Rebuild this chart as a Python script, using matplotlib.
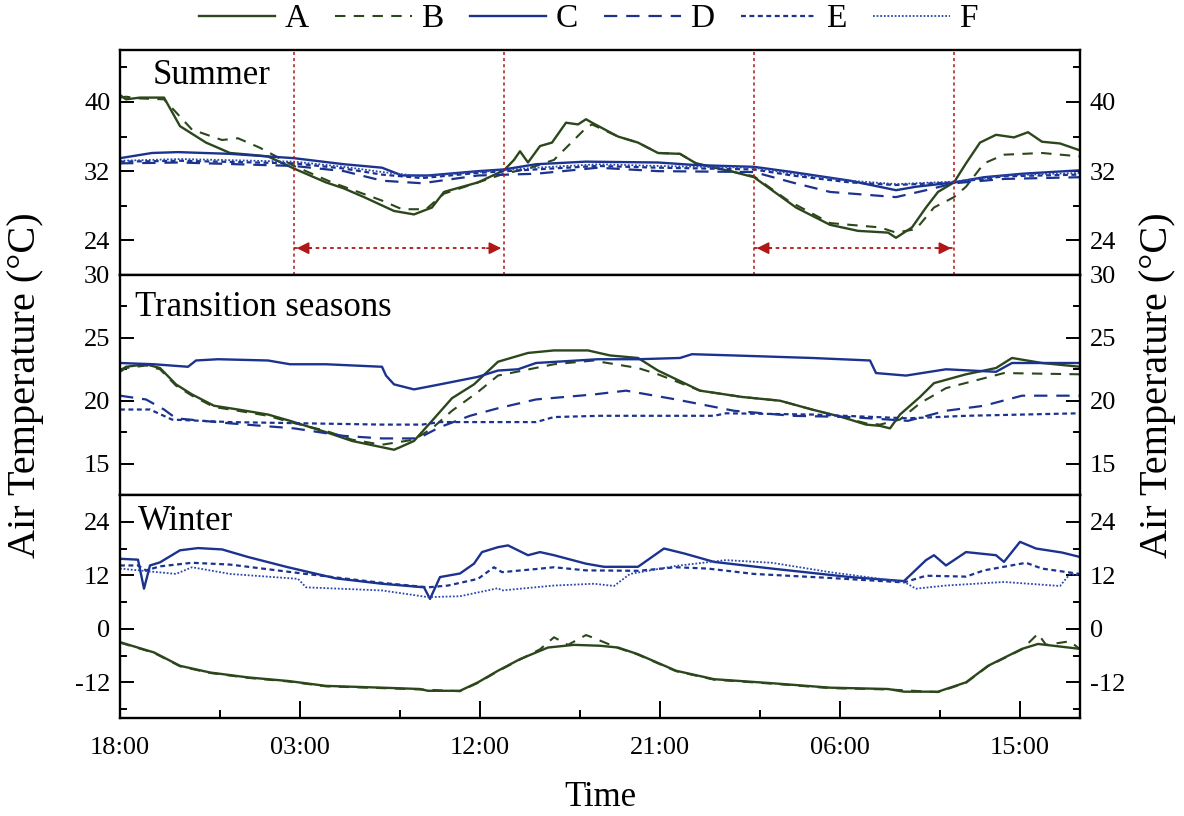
import numpy as np
import matplotlib
matplotlib.use("Agg")
from matplotlib import pyplot as plt
from matplotlib.lines import Line2D

plt.rcParams['font.family'] = ['Liberation Serif', 'DejaVu Serif']
plt.rcParams['axes.unicode_minus'] = False

# ---------------- data (hours after 18:00 of day 1) ----------------
tick_hours = [0, 9, 18, 27, 36, 45]
tick_labels = ['18:00', '03:00', '12:00', '21:00', '06:00', '15:00']
minor_hours = [5, 14, 23, 32, 41]

# summer
sum_A_t = [0, 0.3, 1.0, 2.2, 3.0, 4.3, 5.5, 6.5, 7.4, 8.7, 10.3, 11.2, 12.2, 13.7, 14.7, 15.6, 16.2, 17.9,
           19.2, 19.7, 20.0, 20.4, 21.0, 21.6, 22.3, 22.9, 23.3, 23.6, 24.9, 25.9, 26.9, 28.0, 28.8, 30.7,
           31.7, 32.6, 33.8, 35.5, 36.9, 38.4, 38.8, 39.6, 40.3, 40.9, 41.7, 42.3, 43.0, 43.8, 44.7, 45.4,
           46.1, 47.0, 48.0]
sum_A_v = [40.8, 40.3, 40.5, 40.5, 37.2, 35.3, 34.1, 33.9, 33.7, 32.3, 30.7, 30.0, 29.0, 27.4, 27.0, 27.8,
           29.6, 30.7, 32.1, 33.3, 34.3, 33.0, 34.9, 35.3, 37.6, 37.4, 38.0, 37.6, 36.0, 35.3, 34.1, 34.0, 32.9,
           31.9, 31.3, 29.8, 27.8, 25.8, 25.1, 24.9, 24.3, 25.5, 27.8, 29.6, 30.7, 32.9, 35.3, 36.2, 35.9, 36.5,
           35.4, 35.2, 34.4]
sum_B_t = [0, 0.3, 1.0, 2.2, 3.6, 5.1, 5.9, 7.0, 8.7, 10.6, 13.1, 14.1, 15.3, 16.2, 17.9, 19.2, 20.4,
           21.7, 23.3, 23.6, 24.9, 25.9, 26.9, 28.0, 28.8, 30.7, 31.7, 33.4, 35.5, 38.0, 38.8, 39.8, 40.7,
           41.7, 42.3, 43.2, 44.2, 46.1, 48.0]
sum_B_v = [40.5, 40.6, 40.4, 40.3, 36.8, 35.6, 35.8, 34.7, 32.6, 30.7, 28.6, 27.6, 27.6, 29.4, 30.7, 31.7,
           32.3, 33.3, 37.0, 37.4, 36.0, 35.3, 34.1, 34.0, 32.9, 31.9, 31.4, 28.6, 26.0, 25.5, 24.9, 25.3, 27.8,
           29.0, 30.2, 32.9, 33.9, 34.1, 33.7]
sum_C_t = [0, 1.6, 2.9, 5.5, 8.7, 11.2, 13.1, 14.1, 15.4, 17.9, 19.2, 20.8, 23.3, 26.9, 28.8, 31.7, 33.6,
           36.5, 38.8, 39.8, 41.7, 43.2, 45.1, 48.0]
sum_C_v = [33.5, 34.1, 34.2, 34.0, 33.5, 32.8, 32.4, 31.5, 31.5, 32.0, 32.2, 32.8, 33.1, 33.0, 32.7, 32.5,
           31.9, 30.9, 29.8, 30.2, 30.7, 31.3, 31.7, 32.1]
sum_D_t = [0, 3.0, 8.7, 11.2, 13.1, 15.1, 17.9, 20.8, 23.9, 26.9, 31.7, 33.6, 35.5, 38.8, 40.3, 41.7,
           44.2, 48.0]
sum_D_v = [32.9, 33.0, 32.6, 32.0, 30.9, 30.6, 31.5, 31.7, 32.4, 32.0, 31.9, 30.7, 29.6, 29.0, 29.8, 30.6,
           31.1, 31.3]
sum_E_t = [0, 3.0, 8.7, 11.2, 13.1, 15.1, 17.9, 20.8, 23.9, 26.9, 31.7, 33.6, 36.5, 38.8, 41.7, 44.2, 48.0]
sum_E_v = [33.1, 33.2, 32.9, 32.3, 31.6, 31.2, 31.8, 32.2, 32.6, 32.4, 32.2, 31.5, 30.7, 30.4, 30.7, 31.4,
           31.6]
sum_F_t = [0, 3.0, 8.7, 11.2, 13.1, 15.1, 17.9, 20.8, 23.9, 26.9, 31.7, 33.6, 36.5, 38.8, 41.7, 44.2, 48.0]
sum_F_v = [33.2, 33.4, 33.1, 32.5, 31.9, 31.4, 31.9, 32.4, 32.8, 32.6, 32.4, 31.7, 30.9, 30.5, 30.8, 31.5,
           31.8]

# transition seasons
tr_A_t = [0, 0.3, 1.3, 2.0, 2.8, 3.6, 4.7, 5.9, 7.4, 8.5, 10.3, 11.6, 13.1, 13.7, 14.0, 14.7, 15.6, 16.6,
          17.7, 18.9, 20.4, 21.7, 23.4, 24.5, 25.9, 26.9, 29.0, 31.1, 33.0, 34.6, 36.1, 37.3, 38.0, 38.5, 39.0,
          40.0, 40.7, 42.3, 43.8, 44.6, 46.1, 48.0]
tr_A_v = [22.4, 22.7, 22.9, 22.6, 21.3, 20.5, 19.6, 19.3, 18.9, 18.4, 17.5, 16.8, 16.3, 16.1, 16.3, 16.8,
          18.4, 20.2, 21.3, 23.1, 23.8, 24.0, 24.0, 23.6, 23.4, 22.4, 20.8, 20.3, 20.0, 19.3, 18.7, 18.1, 18.0,
          17.8, 18.9, 20.3, 21.4, 22.1, 22.6, 23.4, 23.0, 22.7]
tr_B_t = [0, 0.3, 1.3, 2.0, 2.8, 3.6, 4.7, 5.9, 7.4, 8.5, 10.3, 11.6, 13.1, 14.7, 15.6, 16.6, 17.9, 18.9,
          21.7, 23.7, 24.0, 25.9, 26.9, 29.0, 31.1, 33.0, 34.6, 36.1, 37.3, 38.0, 39.0, 40.0, 41.3, 44.2, 48.0]
tr_B_v = [22.3, 22.6, 22.8, 22.5, 21.2, 20.4, 19.5, 19.2, 18.8, 18.3, 17.6, 16.9, 16.5, 16.9, 17.8, 19.2,
          20.7, 22.0, 22.9, 23.2, 23.1, 22.6, 22.1, 20.8, 20.3, 20.0, 19.3, 18.7, 18.2, 18.1, 18.5, 19.8, 21.0,
          22.2, 22.1]
tr_C_t = [0, 1.7, 3.4, 3.8, 4.9, 7.4, 8.5, 10.3, 13.1, 13.3, 13.7, 14.7, 16.0, 17.9, 18.9, 19.9, 20.8, 23.9,
          25.9, 28.0, 28.6, 30.7, 34.6, 37.5, 37.8, 39.3, 41.3, 43.8, 44.6, 48.0]
tr_C_v = [23.0, 22.9, 22.7, 23.2, 23.3, 23.2, 22.9, 22.9, 22.7, 22.0, 21.3, 20.9, 21.3, 21.9, 22.4, 22.5,
          23.0, 23.3, 23.3, 23.4, 23.7, 23.6, 23.4, 23.2, 22.2, 22.0, 22.5, 22.3, 23.0, 23.0]
tr_D_t = [0, 1.3, 2.2, 2.8, 5.5, 8.7, 11.2, 13.1, 14.9, 16.0, 17.5, 18.9, 20.8, 23.7, 25.3, 27.8, 30.7,
          33.6, 36.5, 39.4, 41.3, 43.2, 45.1, 48.0]
tr_D_v = [20.4, 20.1, 19.3, 18.6, 18.2, 17.8, 17.2, 17.0, 17.0, 17.9, 18.8, 19.4, 20.1, 20.5, 20.8, 20.1,
          19.2, 18.8, 18.7, 18.4, 19.2, 19.6, 20.4, 20.4]
tr_E_t = [0, 1.5, 2.6, 5.5, 9.3, 13.1, 15.1, 16.0, 20.8, 21.7, 24.0, 29.7, 30.3, 34.6, 39.4, 42.3, 48.0]
tr_E_v = [19.3, 19.3, 18.5, 18.3, 18.2, 18.1, 18.1, 18.3, 18.3, 18.7, 18.8, 18.8, 19.0, 18.9, 18.6, 18.8,
          19.0]

# winter
wi_A_t = [0, 1.7, 3.0, 4.5, 6.4, 8.4, 10.3, 13.1, 15.0, 15.4, 17.0, 17.9, 18.9, 20.0, 21.4, 22.7, 24.0,
          24.9, 25.9, 27.8, 29.7, 32.6, 35.5, 38.4, 39.2, 40.9, 42.3, 43.4, 45.1, 45.9, 48.0]
wi_A_v = [-3.0, -5.3, -8.3, -9.8, -10.9, -11.7, -12.8, -13.2, -13.5, -13.9, -13.9, -12.0, -9.4, -6.8, -4.2,
          -3.6, -3.8, -4.2, -5.7, -9.4, -11.3, -12.2, -13.2, -13.5, -14.1, -14.1, -12.0, -8.3, -4.5, -3.4, -4.5]
wi_B_t = [0, 1.7, 3.0, 4.5, 6.4, 8.4, 10.3, 13.1, 15.0, 17.0, 17.9, 18.9, 20.0, 21.0, 21.7, 22.4, 23.3,
          23.6, 24.9, 25.9, 27.8, 29.7, 32.6, 35.5, 38.4, 40.9, 42.3, 43.4, 45.1, 45.9, 46.3, 47.5, 48.0]
wi_B_v = [-3.1, -5.4, -8.4, -9.9, -11.0, -11.8, -12.9, -13.3, -13.6, -14.0, -12.1, -9.5, -6.9, -4.6, -1.9,
          -3.6, -1.4, -1.9, -4.3, -5.8, -9.5, -11.4, -12.3, -13.3, -13.6, -14.2, -12.1, -8.4, -4.6, -1.1, -3.6,
          -2.8, -4.6]
wi_C_t = [0, 0.9, 1.2, 1.5, 2.0, 3.0, 3.9, 5.1, 6.4, 8.4, 10.8, 13.1, 15.2, 15.5, 16.0, 17.0, 17.7, 18.1,
          18.9, 19.4, 20.4, 21.0, 21.7, 23.3, 24.2, 25.9, 27.2, 28.2, 29.7, 32.6, 36.5, 39.2, 40.3, 40.7, 41.3,
          42.3, 43.8, 44.2, 45.0, 45.8, 47.1, 48.0]
wi_C_v = [15.7, 15.5, 9.0, 14.2, 14.9, 17.6, 18.1, 17.8, 16.1, 13.8, 11.3, 10.1, 9.3, 6.7, 11.6, 12.4, 14.6,
          17.2, 18.3, 18.7, 16.5, 17.2, 16.5, 14.6, 13.9, 13.9, 18.0, 16.9, 15.0, 13.5, 11.6, 10.7, 15.4, 16.5,
          14.2, 17.2, 16.5, 15.0, 19.5, 18.0, 17.1, 16.1]
wi_E_t = [0, 0.9, 1.3, 2.0, 3.6, 5.5, 9.3, 13.1, 15.4, 16.4, 17.9, 18.7, 19.1, 20.8, 21.7, 23.3, 25.9,
          27.8, 29.4, 31.7, 35.5, 39.2, 40.3, 42.3, 43.2, 45.3, 46.1, 48.0]
wi_E_v = [14.2, 14.2, 13.1, 14.0, 14.8, 14.4, 12.3, 10.3, 9.3, 9.7, 11.2, 13.8, 12.7, 13.4, 13.8, 13.1, 13.0,
          13.8, 13.5, 12.3, 11.4, 10.4, 11.9, 11.7, 13.1, 14.8, 13.5, 12.3]
wi_F_t = [0, 2.8, 3.6, 5.5, 8.9, 9.3, 13.1, 15.4, 17.0, 18.9, 19.1, 21.7, 23.7, 24.7, 25.5, 27.8, 30.3,
          32.6, 35.5, 39.2, 39.8, 41.3, 44.2, 47.0, 47.5, 48.0]
wi_F_v = [13.5, 12.3, 13.8, 12.3, 11.2, 9.3, 8.6, 7.1, 7.3, 9.1, 8.6, 9.7, 10.1, 9.6, 12.3, 14.1, 15.4, 14.8,
          12.7, 10.5, 9.0, 9.7, 10.5, 9.6, 12.3, 12.0]

# night markers in the summer panel
mark_hours = [8.7, 19.2, 31.7, 41.7]

# ---------------- styles ----------------
green = '#2c471c'
blue = '#1b338f'
styles = {
    'A': dict(color=green, ls='-', lw=1.7),
    'B': dict(color=green, ls=(0, (5, 4)), lw=1.5),
    'C': dict(color=blue, ls='-', lw=1.7),
    'D': dict(color=blue, ls=(0, (6, 4)), lw=1.6),
    'E': dict(color=blue, ls=(0, (2.2, 1.6)), lw=1.6),
    'F': dict(color='#2b48b0', ls=(0, (1, 1)), lw=1.3),
}

fig = plt.figure(figsize=(11.84, 8.16), dpi=100)
L, W = 120 / 1184, 960 / 1184
ax1 = fig.add_axes([L, 1 - 275 / 816, W, 225 / 816])
ax2 = fig.add_axes([L, 1 - 495 / 816, W, 220 / 816])
ax3 = fig.add_axes([L, 1 - 718 / 816, W, 223 / 816])

panels = [
    (ax1, 'Summer', [('A', sum_A_t, sum_A_v), ('B', sum_B_t, sum_B_v), ('C', sum_C_t, sum_C_v),
                     ('D', sum_D_t, sum_D_v), ('E', sum_E_t, sum_E_v), ('F', sum_F_t, sum_F_v)],
     (20, 46), [24, 32, 40], [20, 28, 36, 44]),
    (ax2, 'Transition seasons', [('A', tr_A_t, tr_A_v), ('B', tr_B_t, tr_B_v), ('C', tr_C_t, tr_C_v),
                                 ('D', tr_D_t, tr_D_v), ('E', tr_E_t, tr_E_v)],
     (12.5, 30), [15, 20, 25, 30], [12.5, 17.5, 22.5, 27.5]),
    (ax3, 'Winter', [('A', wi_A_t, wi_A_v), ('B', wi_B_t, wi_B_v), ('C', wi_C_t, wi_C_v),
                     ('E', wi_E_t, wi_E_v), ('F', wi_F_t, wi_F_v)],
     (-20, 30), [-12, 0, 12, 24], [-18, -6, 6, 18]),
]

label_y = {'Summer': 0.885, 'Transition seasons': 0.85, 'Winter': 0.88}
label_x = {'Summer': 0.034, 'Transition seasons': 0.016, 'Winter': 0.019}

for ax, name, series, ylim, yt, ymt in panels:
    for key, t, v in series:
        ax.plot(t, v, **styles[key])
    ax.set_xlim(0, 48)
    ax.set_ylim(*ylim)
    ax.set_yticks(yt)
    ax.set_yticks(ymt, minor=True)
    ax.tick_params(axis='y', which='major', direction='in', length=10, width=1.4,
                   labelsize=19, right=True, labelright=True, pad=7)
    ax.tick_params(axis='y', which='minor', direction='in', length=5, width=1.4, right=True)
    for s in ax.spines.values():
        s.set_linewidth(1.7)
    ax.text(label_x[name], label_y[name], name, transform=ax.transAxes, fontsize=25, va='center', ha='left')
    if ax is not ax3:
        ax.set_xticks([])

ax3.set_xticks(tick_hours)
ax3.set_xticks(minor_hours + [0, 48], minor=True)
ax3.set_xticklabels(tick_labels)
ax3.tick_params(axis='x', which='major', direction='in', length=12, width=1.4, labelsize=19, pad=14,
                top=False)
ax3.tick_params(axis='x', which='minor', direction='in', length=6, width=1.4, top=False)

# summer night markers
red = '#b01818'
for h in mark_hours:
    ax1.axvline(h, color=red, ls=(0, (2, 2)), lw=1.1)
for a, b in [(mark_hours[0], mark_hours[1]), (mark_hours[2], mark_hours[3])]:
    ax1.plot([a, b], [23.1, 23.1], color=red, ls=(0, (2, 2)), lw=1.3)
    ax1.annotate('', xy=(a, 23.1), xytext=(a + 1.0, 23.1),
                 arrowprops=dict(arrowstyle='-|>', color=red, lw=1.2, mutation_scale=18))
    ax1.annotate('', xy=(b, 23.1), xytext=(b - 1.0, 23.1),
                 arrowprops=dict(arrowstyle='-|>', color=red, lw=1.2, mutation_scale=18))

fig.text(26 / 1184, 1 - 385 / 816, 'Air Temperature (\u00b0C)', rotation=90, fontsize=29,
         ha='center', va='center')
fig.text(1157 / 1184, 1 - 385 / 816, 'Air Temperature (\u00b0C)', rotation=90, fontsize=29,
         ha='center', va='center')
fig.text(600 / 1184, 1 - 797 / 816, 'Time', fontsize=25, ha='center', va='center')

handles = [Line2D([], [], **styles[k]) for k in 'ABCDEF']
fig.legend(handles, list('ABCDEF'), loc='center', bbox_to_anchor=(588 / 1184, 1 - 19 / 816), ncol=6,
           frameon=False, fontsize=24, handlelength=2.3, columnspacing=0.8, handletextpad=0.27,
           borderpad=0.1)

fig.savefig('out.png', dpi=100)
